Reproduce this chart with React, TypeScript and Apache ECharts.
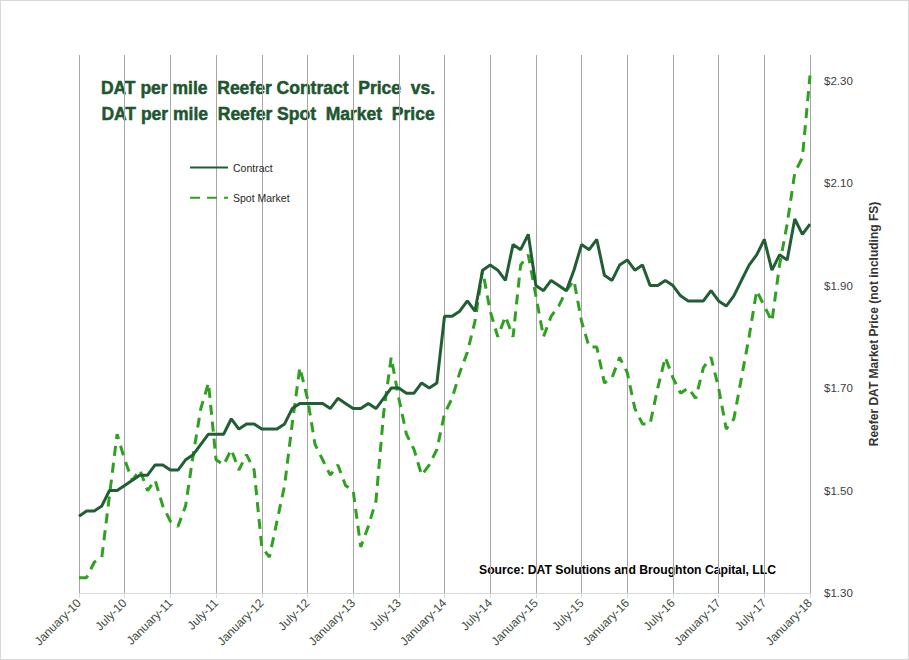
import React, { useEffect, useRef } from 'react';
import * as echarts from 'echarts';

const MONTHS = ['January', 'February', 'March', 'April', 'May', 'June', 'July', 'August', 'September', 'October', 'November', 'December'];
const YEARS = ['10', '11', '12', '13', '14', '15', '16', '17', '18'];

// one value per month, January-10 .. January-18
const contract = [
    1.45, 1.46, 1.46, 1.47, 1.50, 1.50, 1.51, 1.52, 1.53, 1.53, 1.55, 1.55,
    1.54, 1.54, 1.56, 1.57, 1.59, 1.61, 1.61, 1.61, 1.64, 1.62, 1.63, 1.63,
    1.62, 1.62, 1.62, 1.63, 1.66, 1.67, 1.67, 1.67, 1.67, 1.66, 1.68, 1.67,
    1.66, 1.66, 1.67, 1.66, 1.68, 1.70, 1.70, 1.69, 1.69, 1.71, 1.70, 1.71,
    1.84, 1.84, 1.85, 1.87, 1.85, 1.93, 1.94, 1.93, 1.91, 1.98, 1.97, 2.00,
    1.90, 1.89, 1.91, 1.90, 1.89, 1.93, 1.98, 1.97, 1.99, 1.92, 1.91, 1.94,
    1.95, 1.93, 1.94, 1.90, 1.90, 1.91, 1.90, 1.88, 1.87, 1.87, 1.87, 1.89,
    1.87, 1.86, 1.88, 1.91, 1.94, 1.96, 1.99, 1.93, 1.96, 1.95, 2.03, 2.00,
    2.02,
];

const spotMarket = [
    1.33, 1.33, 1.36, 1.37, 1.49, 1.61, 1.56, 1.52, 1.54, 1.50, 1.52, 1.47,
    1.44, 1.43, 1.47, 1.57, 1.66, 1.71, 1.56, 1.55, 1.58, 1.54, 1.57, 1.54,
    1.39, 1.37, 1.44, 1.51, 1.63, 1.74, 1.68, 1.59, 1.56, 1.53, 1.55, 1.51,
    1.50, 1.39, 1.43, 1.48, 1.65, 1.76, 1.68, 1.61, 1.58, 1.53, 1.55, 1.58,
    1.65, 1.68, 1.73, 1.77, 1.83, 1.93, 1.85, 1.80, 1.84, 1.80, 1.94, 1.96,
    1.88, 1.80, 1.84, 1.86, 1.89, 1.91, 1.83, 1.78, 1.78, 1.71, 1.72, 1.76,
    1.73, 1.66, 1.63, 1.63, 1.70, 1.76, 1.72, 1.69, 1.70, 1.68, 1.74, 1.76,
    1.70, 1.62, 1.64, 1.72, 1.80, 1.89, 1.86, 1.83, 1.94, 2.02, 2.12, 2.15,
    2.31,
];

const priceTicks = [1.3, 1.5, 1.7, 1.9, 2.1, 2.3];

const categories: string[] = [];
YEARS.forEach((y) => MONTHS.forEach((m) => categories.push(m + '-' + y)));
categories.length = contract.length;

const FONT = '"Liberation Sans", Arial, sans-serif';

const App: React.FC = () => {
    const chartRef = useRef<HTMLDivElement>(null);

    useEffect(() => {
        const chartDom = chartRef.current!;
        const myChart = echarts.init(chartDom, undefined, { renderer: 'svg' });
        const option: echarts.EChartsOption = {
            animation: false,
            backgroundColor: '#ffffff',
            grid: { left: 78, right: 98, top: 54, bottom: 66 },
            graphic: [
                {
                    type: 'text',
                    x: 267,
                    y: 87,
                    style: {
                        text: 'DAT per mile  Reefer Contract  Price  vs.',
                        font: 'bold 17.5px ' + FONT,
                        fill: '#1e5631',
                        stroke: '#1e5631',
                        lineWidth: 0.5,
                        textAlign: 'center',
                        textVerticalAlign: 'middle',
                    },
                },
                {
                    type: 'text',
                    x: 267,
                    y: 113,
                    style: {
                        text: 'DAT per mile  Reefer Spot  Market  Price',
                        font: 'bold 17.5px ' + FONT,
                        fill: '#1e5631',
                        stroke: '#1e5631',
                        lineWidth: 0.5,
                        textAlign: 'center',
                        textVerticalAlign: 'middle',
                    },
                },
                {
                    type: 'text',
                    x: 478,
                    y: 569,
                    style: {
                        text: 'Source: DAT Solutions and Broughton Capital, LLC',
                        font: 'bold 12.2px ' + FONT,
                        fill: '#000000',
                        textAlign: 'left',
                        textVerticalAlign: 'middle',
                    },
                },
            ],
            legend: {
                orient: 'vertical',
                left: 183,
                top: 156,
                itemWidth: 38,
                itemHeight: 14,
                itemGap: 19,
                itemStyle: { opacity: 0 },
                textStyle: { fontFamily: FONT, fontSize: 10.5, color: '#262626' },
                data: ['Contract', 'Spot Market'],
            },
            xAxis: {
                type: 'category',
                data: categories,
                boundaryGap: false,
                axisLine: { lineStyle: { color: '#d9d9d9', width: 1 } },
                axisTick: { show: true, interval: 5, length: 5, lineStyle: { color: '#d9d9d9' } },
                splitLine: { show: true, interval: 5, lineStyle: { color: '#a6a6a6', width: 1 } },
                axisLabel: {
                    interval: 5,
                    rotate: 45,
                    margin: 8,
                    color: '#3f4d3f',
                    fontFamily: FONT,
                    fontSize: 12,
                },
            },
            yAxis: {
                type: 'value',
                position: 'right',
                min: 1.3,
                max: 2.35,
                name: 'Reefer DAT Market Price (not including FS)',
                nameLocation: 'middle',
                nameRotate: 90,
                nameGap: 58,
                nameTextStyle: { fontFamily: FONT, fontSize: 12, fontWeight: 'bold', color: '#333333' },
                axisLine: { show: false },
                axisTick: { show: false },
                splitLine: { show: false },
                axisLabel: {
                    customValues: priceTicks,
                    margin: 14,
                    color: '#404040',
                    fontFamily: FONT,
                    fontSize: 11.5,
                    formatter: (v: number) => '$' + v.toFixed(2),
                },
            },
            series: [
                {
                    name: 'Contract',
                    type: 'line',
                    data: contract,
                    symbol: 'none',
                    lineStyle: { color: '#215e33', width: 3 },
                    itemStyle: { color: '#215e33' },
                    z: 3,
                },
                {
                    name: 'Spot Market',
                    type: 'line',
                    data: spotMarket,
                    symbol: 'none',
                    lineStyle: { color: '#2ea21f', width: 3, type: [10, 7] },
                    itemStyle: { color: '#2ea21f' },
                    z: 2,
                },
            ],
        };

        myChart.setOption(option);

        return () => {
            myChart.dispose();
        };
    }, []);

    return (
        <div
            ref={chartRef}
            style={{
                position: 'absolute',
                left: 0,
                top: 0,
                width: 909,
                height: 660,
                boxSizing: 'border-box',
                border: '1px solid #d9d9d9',
            }}
        />
    );
};

export default App;
